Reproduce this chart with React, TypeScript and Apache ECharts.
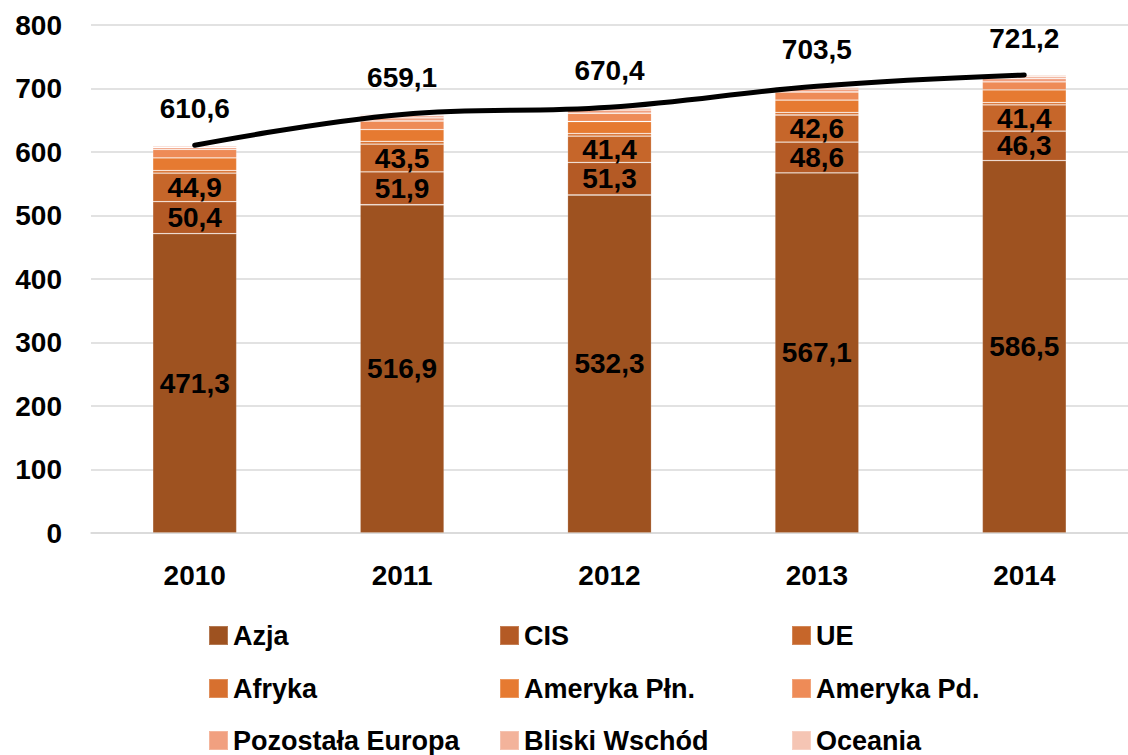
import React, { useEffect, useRef } from "react";
import * as echarts from "echarts";

const years = ["2010", "2011", "2012", "2013", "2014"];
const azja = [471.3, 516.9, 532.3, 567.1, 586.5];
const cis = [50.4, 51.9, 51.3, 48.6, 46.3];
const ue = [44.9, 43.5, 41.4, 42.6, 41.4];
const afryka = [4.2, 4.5, 4.0, 4.0, 3.6];
const amerykaPln = [19.8, 18.5, 19.0, 19.5, 19.9];
const amerykaPd = [13.5, 13.5, 13.0, 12.7, 12.6];
const pozostalaEuropa = [3.0, 5.0, 5.0, 4.5, 5.4];
const bliskiWschod = [2.2, 3.5, 3.0, 3.0, 3.5];
const oceania = [1.3, 1.8, 1.4, 1.5, 2.0];
const totals = [610.6, 659.1, 670.4, 703.5, 721.2];
const yTicks = [0, 100, 200, 300, 400, 500, 600, 700, 800];

const seriesNames = [
  "Azja", "CIS", "UE", "Afryka", "Ameryka Płn.", "Ameryka Pd.",
  "Pozostała Europa", "Bliski Wschód", "Oceania",
];
const seriesData = [azja, cis, ue, afryka, amerykaPln, amerykaPd, pozostalaEuropa, bliskiWschod, oceania];
const colors = [
  "#9E5220", "#B45A25", "#C6662A", "#D7702F", "#E67A31",
  "#EE8B57", "#F1A080", "#F3B39B", "#F5C5B4",
];
const labeled = [true, true, true, false, false, false, false, false, false];

const FONT = "'Liberation Sans', Arial, sans-serif";
const fmt = (v: number) => v.toFixed(1).replace(".", ",");

export default function App() {
  const ref = useRef<HTMLDivElement>(null);
  useEffect(() => {
    if (!ref.current) return;
    const chart = echarts.init(ref.current, undefined, { renderer: "svg" });
    const legendCols = [208, 499, 791];
    const legendRows = [636, 689, 741];
    const legends = seriesNames.map((name, i) => ({
      data: [name],
      left: legendCols[i % 3],
      top: legendRows[Math.floor(i / 3)] - 14,
      padding: 0,
      icon: "rect",
      itemWidth: 19,
      itemHeight: 19,
      selectedMode: false,
      textStyle: { fontSize: 27, fontWeight: "bold", color: "#000", fontFamily: FONT },
    }));
    const barSeries = seriesNames.map((name, i) => ({
      name,
      type: "bar",
      stack: "total",
      barWidth: 84,
      data: seriesData[i],
      itemStyle: { color: colors[i], borderColor: "rgba(255,255,255,0.22)", borderWidth: 0.8 },
      label: labeled[i]
        ? {
            show: true,
            position: "inside",
            formatter: (p: any) => fmt(p.value),
            fontSize: 28,
            fontWeight: "bold",
            color: "#000",
            fontFamily: FONT,
          }
        : { show: false },
    }));
    chart.setOption({
      animation: false,
      backgroundColor: "#fff",
      grid: { left: 91, top: 25, width: 1042.5, height: 508, containLabel: false },
      legend: legends,
      xAxis: {
        type: "category",
        data: years,
        axisTick: { show: false },
        axisLine: { show: true, lineStyle: { color: "#D9D9D9", width: 1.5 } },
        axisLabel: { margin: 28, fontSize: 28, fontWeight: "bold", color: "#000", fontFamily: FONT },
      },
      yAxis: {
        type: "value",
        min: yTicks[0],
        max: yTicks[yTicks.length - 1],
        interval: 100,
        axisLine: { show: false },
        axisTick: { show: false },
        splitLine: { lineStyle: { color: "#D9D9D9", width: 1.5 } },
        axisLabel: { margin: 29, fontSize: 28, fontWeight: "bold", color: "#000", fontFamily: FONT },
      },
      series: [
        ...barSeries,
        {
          name: "Razem",
          type: "line",
          data: totals,
          smooth: 0.4,
          symbol: "circle",
          symbolSize: 1,
          itemStyle: { color: "#000" },
          lineStyle: { color: "#000", width: 5, cap: "round" },
          z: 10,
          label: {
            show: true,
            position: "top",
            distance: 22,
            formatter: (p: any) => fmt(p.value),
            fontSize: 28,
            fontWeight: "bold",
            color: "#000",
            fontFamily: FONT,
          },
        },
      ],
    });
    return () => chart.dispose();
  }, []);
  return (
    <div
      ref={ref}
      style={{ position: "fixed", left: 0, top: 0, width: 1128, height: 755, background: "#fff" }}
    />
  );
}
